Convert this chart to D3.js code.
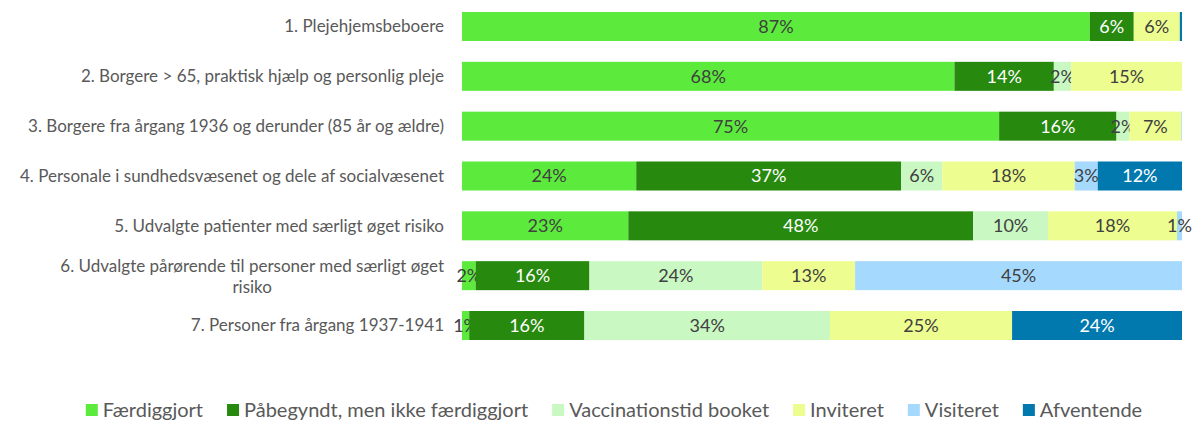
<!DOCTYPE html>
<html>
<head>
<meta charset="utf-8">
<script src="https://cdn.jsdelivr.net/npm/d3@7"></script>
<style>
  body { margin: 0; background: #fff; overflow: hidden; }
  text { font-family: "Lato", "Open Sans", sans-serif; }
</style>
</head>
<body>
<div id="chart"></div>
<script>
// Categories (groups) and series names
var categories = [
  "1. Plejehjemsbeboere",
  "2. Borgere > 65, praktisk hjælp og personlig pleje",
  "3. Borgere fra årgang 1936 og derunder (85 år og ældre)",
  "4. Personale i sundhedsvæsenet og dele af socialvæsenet",
  "5. Udvalgte patienter med særligt øget risiko",
  "6. Udvalgte pårørende til personer med særligt øget risiko",
  "7. Personer fra årgang 1937-1941"
];
var seriesNames = ["Færdiggjort", "Påbegyndt, men ikke færdiggjort", "Vaccinationstid booket", "Inviteret", "Visiteret", "Afventende"];
var seriesColors = ["#5CEB3C", "#27890E", "#C9F8C2", "#EDFD8F", "#A5DAFE", "#0179AF"];
var labelColors = ["#404040", "#ffffff", "#404040", "#404040", "#404040", "#ffffff"];

// Percent values per series, one per category
var faerdiggjort = [87.2, 68.4, 74.6, 24.2, 23.1, 1.9, 1.0];
var paabegyndt   = [6.1, 13.8, 16.3, 36.8, 47.9, 15.8, 16.0];
var booket       = [0, 2.4, 1.8, 5.7, 10.4, 24.0, 34.1];
var inviteret    = [6.4, 15.4, 7.2, 18.4, 17.9, 12.9, 25.3];
var visiteret    = [0, 0, 0.1, 3.2, 0.7, 45.4, 0];
var afventende   = [0.3, 0, 0, 11.7, 0, 0, 23.6];

var seriesValues = [faerdiggjort, paabegyndt, booket, inviteret, visiteret, afventende];

// Set the dimensions and margins
var totalW = 1193, totalH = 421;
var margin = { top: 12, right: 11, bottom: 81, left: 462 };
var width = totalW - margin.left - margin.right;
var height = totalH - margin.top - margin.bottom;

var svg = d3.select("#chart")
  .append("svg")
  .attr("width", totalW)
  .attr("height", totalH);

var g = svg.append("g")
  .attr("transform", "translate(" + margin.left + "," + margin.top + ")");

// Build stack table
var table = categories.map(function (c, i) {
  var row = { cat: c };
  seriesNames.forEach(function (s, j) { row[s] = seriesValues[j][i]; });
  return row;
});
var stacked = d3.stack().keys(seriesNames)(table);

var xScale = d3.scaleLinear().domain([0, 100]).range([0, width]);
var yScale = d3.scaleBand().domain(categories).range([0, height]).paddingInner(0.418).paddingOuter(0);

// Draw segments
var layers = g.selectAll("g.layer")
  .data(stacked)
  .enter()
  .append("g")
  .attr("class", "layer")
  .attr("fill", function (d, i) { return seriesColors[i]; });

layers.selectAll("rect")
  .data(function (d) { return d; })
  .enter()
  .append("rect")
  .attr("x", function (d) { return xScale(d[0]); })
  .attr("y", function (d) { return yScale(d.data.cat); })
  .attr("width", function (d) { return Math.max(0, xScale(d[1]) - xScale(d[0])); })
  .attr("height", yScale.bandwidth());

// Segment labels
layers.each(function (layer, i) {
  d3.select(this).selectAll("text")
    .data(layer.filter(function (d) { return Math.round(d[1] - d[0]) >= 1; }))
    .enter()
    .append("text")
    .attr("x", function (d) { return (xScale(d[0]) + xScale(d[1])) / 2; })
    .attr("y", function (d) { return yScale(d.data.cat) + yScale.bandwidth() / 2; })
    .attr("dy", "0.36em")
    .attr("text-anchor", "middle")
    .style("font-size", "18px")
    .style("fill", labelColors[i])
    .text(function (d) { return Math.round(d[1] - d[0]) + "%"; });
});

// Category labels (right aligned, long ones wrapped and centred)
var maxLabel = 426;
categories.forEach(function (c) {
  var t = svg.append("text")
    .attr("text-anchor", "end")
    .style("font-size", "17px")
    .style("fill", "#595959");
  var cy = margin.top + yScale(c) + yScale.bandwidth() / 2;
  t.text(c);
  if (t.node().getComputedTextLength() <= maxLabel) {
    t.attr("x", 444).attr("y", cy).attr("dy", "0.35em");
    return;
  }
  // wrap words
  var words = c.split(" "), line1 = [], rest = [];
  t.text("");
  var probe = svg.append("text").style("font-size", "17px");
  for (var k = 0; k < words.length; k++) {
    probe.text(line1.concat(words[k]).join(" "));
    if (probe.node().getComputedTextLength() > maxLabel - 20) { rest = words.slice(k); break; }
    line1.push(words[k]);
  }
  probe.text(line1.join(" "));
  var w1 = probe.node().getComputedTextLength();
  probe.remove();
  var mid = 444 - w1 / 2;
  t.attr("text-anchor", "middle");
  t.append("tspan").attr("x", mid).attr("y", cy - 10).attr("dy", "0.35em").text(line1.join(" "));
  t.append("tspan").attr("x", mid).attr("y", cy + 11).attr("dy", "0.35em").text(rest.join(" "));
});

// Legend
var legend = svg.append("g").attr("class", "legend");
var lx = 0;
seriesNames.forEach(function (s, i) {
  var item = legend.append("g").attr("transform", "translate(" + lx + ",0)");
  item.append("rect").attr("x", 0).attr("y", -6).attr("width", 12).attr("height", 12).attr("fill", seriesColors[i]);
  var txt = item.append("text")
    .attr("x", 17)
    .attr("y", 0)
    .attr("dy", "0.35em")
    .style("font-size", "20px")
    .style("fill", "#595959")
    .text(s);
  lx += 17 + txt.node().getComputedTextLength() + 24;
});
var legendW = lx - 24;
legend.attr("transform", "translate(" + (614 - legendW / 2) + ",410)");
</script>
</body>
</html>
